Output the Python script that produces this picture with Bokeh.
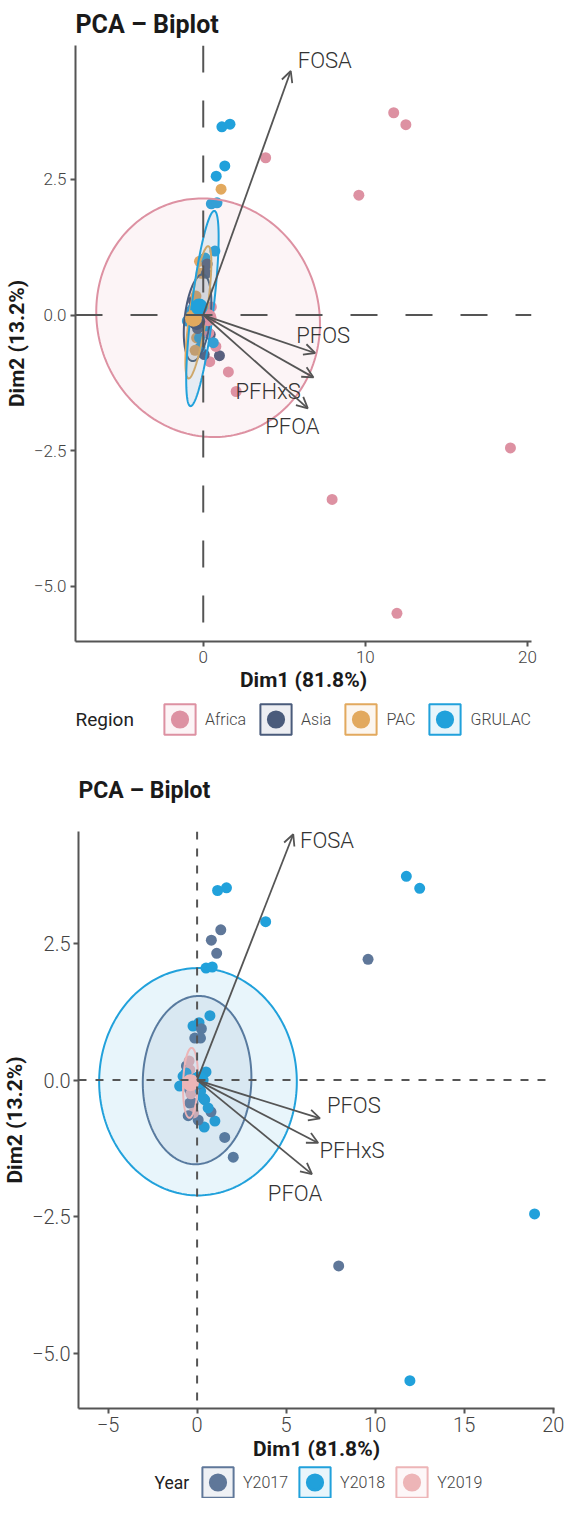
import numpy as np
from bokeh.plotting import figure
from bokeh.models import (ColumnDataSource, Span, Arrow, OpenHead, Legend, LegendItem,
                          FixedTicker, Range1d, Label)
from bokeh.embed import file_html
from bokeh.resources import INLINE
from bokeh.core.properties import value

# ---------------- data ----------------
pc1 = [11.75, 12.5, 3.85, 9.6, 18.95, 7.95, 11.95,
       1.15, 1.65, 1.33, 0.8, 1.1, 0.5, 0.85, 0.72,
       -0.23, 0.11, 0.24, -0.13, 0.19,
       -0.79, -0.98, 0.34, 0.43, 1.0, 0.4, 0.78, 0.06, -0.41, -0.6,
       -0.41, 1.55, 2.03, 0.62, 0.34, -0.23, -0.41, -0.62, 0.25, -0.45,
       -0.35, -0.2, 0.5, 0.2, -0.5]
pc2 = [3.73, 3.51, 2.9, 2.21, -2.45, -3.4, -5.5,
       3.47, 3.52, 2.75, 2.56, 2.32, 2.05, 2.07, 1.18,
       0.99, 1.05, 0.94, 0.77, 0.77,
       0.07, -0.11, 0.0, -0.36, -0.75, -0.86, -0.58, -0.73, -0.42, 0.26,
       0.19, -1.05, -1.41, -0.51, -0.33, -0.42, -0.18, 0.13, -0.05, 0.35,
       -0.25, -0.6, 0.15, -0.2, -0.65]
region = ["Africa", "Africa", "Africa", "Africa", "Africa", "Africa", "Africa",
          "GRULAC", "GRULAC", "GRULAC", "GRULAC", "PAC", "GRULAC", "GRULAC", "GRULAC",
          "PAC", "GRULAC", "Asia", "PAC", "Asia",
          "GRULAC", "GRULAC", "GRULAC", "Asia", "Asia", "Africa", "Africa", "Asia", "PAC", "Asia",
          "PAC", "Africa", "Africa", "GRULAC", "Africa", "GRULAC", "Asia", "GRULAC", "Africa", "PAC",
          "Asia", "GRULAC", "Africa", "GRULAC", "PAC"]
year = ["Y2018", "Y2018", "Y2018", "Y2017", "Y2018", "Y2017", "Y2018",
        "Y2018", "Y2018", "Y2017", "Y2017", "Y2017", "Y2018", "Y2018", "Y2018",
        "Y2018", "Y2018", "Y2017", "Y2017", "Y2017",
        "Y2018", "Y2018", "Y2018", "Y2018", "Y2018", "Y2018", "Y2017", "Y2017", "Y2017", "Y2017",
        "Y2019", "Y2017", "Y2017", "Y2018", "Y2018", "Y2017", "Y2017", "Y2018", "Y2018", "Y2019",
        "Y2019", "Y2019", "Y2018", "Y2018", "Y2017"]

var_names = ["FOSA", "PFOS", "PFHxS", "PFOA"]
var_x = [5.4, 6.9, 6.8, 6.45]
var_y = [4.5, -0.7, -1.15, -1.72]
lab1_x = [7.5, 7.4, 4.0, 5.5]
lab1_y = [4.7, -0.38, -1.41, -2.05]
lab2_x = [7.3, 8.8, 8.7, 5.5]
lab2_y = [4.39, -0.46, -1.28, -2.07]

regions = ["Africa", "Asia", "PAC", "GRULAC"]
region_colors = ["#DD91A2", "#4A5B7B", "#E2A95E", "#21A1DB"]
region_cx = [0.3, -0.35, -0.3, -0.05]
region_cy = [-0.05, -0.05, 0.05, 0.12]
region_sx = [6.9, 0.85, 0.8, 1.0]
region_sy = [2.2, 0.8, 1.22, 1.8]
region_rho = [-0.05, 0.35, 0.75, 0.73]
region_mean_x = [0.3, -0.4, -0.6, -0.25]
region_mean_y = [-0.05, -0.12, -0.06, 0.15]

years = ["Y2017", "Y2018", "Y2019"]
year_colors = ["#5F7799", "#21A1DB", "#EDB5B7"]
year_cx = [0.0, 0.05, -0.37]
year_cy = [0.0, -0.03, -0.05]
year_sx = [3.05, 5.55, 0.42]
year_sy = [1.54, 2.08, 0.64]
year_rho = [0.03, 0.0, 0.15]
year_mean_x = [0.0, 0.1, -0.37]
year_mean_y = [-0.02, 0.0, -0.05]

top_xticks = [0, 10, 20]
bot_xticks = [-5, 0, 5, 10, 15, 20]
yticks = [-5.0, -2.5, 0.0, 2.5]

LIGHT = "'Roboto Light', Roboto"
AX = "#555555"


def minus(s):
    return s.replace("-", "\u2212")


def ellipse_pts(cx, cy, sx, sy, rho):
    t = np.linspace(0, 2 * np.pi, 240)
    xs = cx + sx * np.cos(t)
    ys = cy + sy * (rho * np.cos(t) + np.sqrt(1 - rho ** 2) * np.sin(t))
    return xs, ys


def make_fig(width, height, xr, yr, xt, mb, title_size, tick_size, dash, title_standoff,
             label_standoff):
    p = figure(width=width, height=height, x_range=Range1d(*xr), y_range=Range1d(*yr),
               output_backend="svg", toolbar_location=None,
               min_border_left=mb[0], min_border_right=mb[1],
               min_border_top=mb[2], min_border_bottom=mb[3])
    p.title.text = "PCA \u2013 Biplot"
    p.title.text_font = "Roboto"
    p.title.text_font_style = "bold"
    p.title.text_font_size = title_size
    p.title.text_color = "#1a1a1a"
    p.title.standoff = title_standoff
    p.grid.visible = False
    p.outline_line_color = None
    for ax in (p.xaxis[0], p.yaxis[0]):
        ax.axis_line_color = AX
        ax.axis_line_width = 2
        ax.major_tick_line_color = AX
        ax.major_tick_line_width = 2
        ax.major_tick_in = 0
        ax.major_tick_out = 5
        ax.minor_tick_line_color = None
        ax.major_label_text_font = LIGHT
        ax.major_label_text_font_size = tick_size
        ax.major_label_text_color = "#444444"
        ax.axis_label_text_font = "Roboto"
        ax.axis_label_text_font_style = "bold"
        ax.axis_label_text_font_size = "21px"
        ax.axis_label_text_color = "#1a1a1a"
        ax.major_label_standoff = label_standoff
        ax.axis_label_standoff = 2
    p.xaxis.ticker = FixedTicker(ticks=xt)
    p.xaxis.major_label_overrides = {t: minus(str(t)) for t in xt}
    p.yaxis.ticker = FixedTicker(ticks=yticks)
    p.yaxis.major_label_overrides = {t: minus(f"{t:.1f}") for t in yticks}
    p.xaxis.axis_label = "Dim1 (81.8%)"
    p.yaxis.axis_label = "Dim2 (13.2%)"
    for dim in ("width", "height"):
        p.add_layout(Span(location=0, dimension=dim, line_color=AX, line_width=2,
                          line_dash=dash))
    return p


def add_content(p, groups, colors, cxs, cys, sxs, sys_, rhos, mxs, mys, key, lab_x, lab_y):
    src = ColumnDataSource(dict(x=pc1, y=pc2, g=key,
                                c=[colors[groups.index(k)] for k in key]))
    p.scatter("x", "y", source=src, size=11, fill_color="c", line_color=None)
    for i, g in enumerate(groups):
        xs, ys = ellipse_pts(cxs[i], cys[i], sxs[i], sys_[i], rhos[i])
        p.patch(xs, ys, fill_color=colors[i], fill_alpha=0.1,
                line_color=colors[i], line_width=2)
    p.scatter(mxs, mys, size=17, fill_color=colors, line_color=None)
    for i in range(len(var_names)):
        p.add_layout(Arrow(end=OpenHead(size=11, line_color="#555555", line_width=1.8),
                           x_start=0, y_start=0, x_end=var_x[i], y_end=var_y[i],
                           line_color="#555555", line_width=1.8))
    p.text(lab_x, lab_y, text=var_names, text_font=value(LIGHT), text_font_size="22px",
           text_color="#333333", text_align="center", text_baseline="middle")


def make_legend(height, groups, colors, title, title_size, title_x, key_x, key_y, spacing):
    lf = figure(width=560, height=height, x_range=Range1d(0, 560), y_range=Range1d(0, height),
                output_backend="svg", toolbar_location=None, min_border=0)
    lf.axis.visible = False
    lf.grid.visible = False
    lf.outline_line_color = None
    items = []
    for i, g in enumerate(groups):
        box = lf.patch([np.nan, np.nan, np.nan], [np.nan, np.nan, np.nan],
                       fill_color=colors[i], fill_alpha=0.1, line_color=colors[i], line_width=2)
        dot = lf.scatter([np.nan], [np.nan], size=11, fill_color=colors[i],
                         line_color=colors[i], line_width=3)
        items.append(LegendItem(label=g, renderers=[box, dot]))
    leg = Legend(items=items, orientation="horizontal", location=(key_x, key_y))
    leg.label_text_font = LIGHT
    leg.label_text_font_size = "16px"
    leg.label_text_color = "#444444"
    leg.glyph_width = 39
    leg.glyph_height = 38
    leg.label_height = 38
    leg.label_standoff = 6
    leg.spacing = spacing
    leg.padding = 0
    leg.margin = 0
    leg.border_line_color = None
    leg.background_fill_alpha = 0
    lf.add_layout(leg, "center")
    lf.add_layout(Label(x=title_x, y=key_y + 19, x_units="screen", y_units="screen",
                        text=title, text_font="Roboto", text_font_size=title_size,
                        text_color="#222222", text_baseline="middle", text_align="left"))
    return lf


p1 = make_fig(560, 700, (-7.88, 20.25), (-6.02, 4.97), top_xticks, (75, 29, 41, 59),
              "25px", "17px", "27 28", 14, 4)
add_content(p1, regions, region_colors, region_cx, region_cy, region_sx, region_sy,
            region_rho, region_mean_x, region_mean_y, region, lab1_x, lab1_y)
l1 = make_legend(38, regions, region_colors, "Region", "19px", 75, 160, 0, 10)

p2 = make_fig(568, 728, (-6.66, 20.07), (-6.01, 4.55), bot_xticks, (77, 14, 93, 58),
              "23px", "20px", "8 9", 56, 3)
add_content(p2, years, year_colors, year_cx, year_cy, year_sx, year_sy,
            year_rho, year_mean_x, year_mean_y, year, lab2_x, lab2_y)
l2 = make_legend(32, years, year_colors, "Year", "17.5px", 154, 198, -3, 7)

open("out.html", "w").write(file_html([p1, l1, p2, l2], INLINE))
